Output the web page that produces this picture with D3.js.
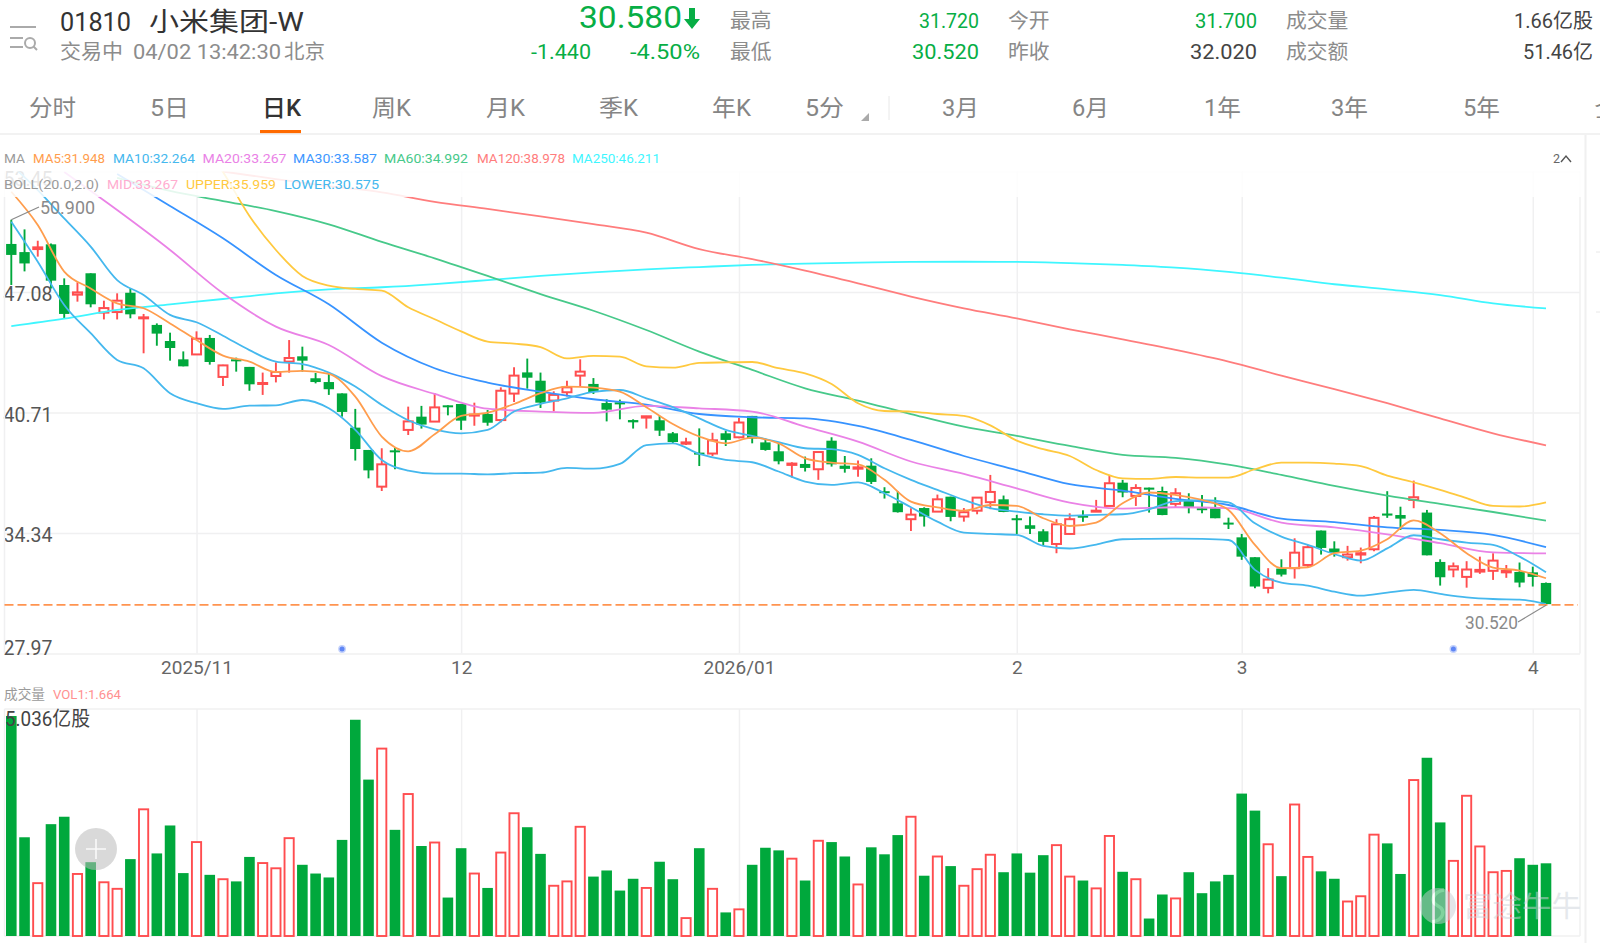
<!DOCTYPE html>
<html lang="zh">
<head>
<meta charset="utf-8">
<title>01810 小米集团-W 日K</title>
<script src="https://cdn.jsdelivr.net/npm/d3@7"></script>
<style>
  html, body { margin: 0; padding: 0; background: #fff; overflow: hidden; }
  svg { display: block; font-family: Roboto, "Noto Sans CJK SC", sans-serif; }
  .axis .domain { display: none; }
</style>
</head>
<body>
<svg id="chart" width="1600" height="943"></svg>
<script>
// Daily candles, one entry per trading session
const opens = [49.62,49.19,49.35,49.60,47.45,46.94,48.07,45.99,46.02,47.04,
  45.69,45.34,44.49,43.52,43.78,44.65,42.59,43.52,43.12,42.22,
  42.64,43.40,43.68,42.52,42.32,41.72,39.91,38.73,36.79,38.71,
  39.79,40.49,40.23,41.09,41.16,40.55,40.63,40.31,41.71,42.83,
  42.39,41.34,41.78,42.66,42.22,41.21,41.25,40.31,40.44,40.30,
  39.61,39.06,38.59,38.54,39.61,39.40,40.53,39.13,38.66,37.94,
  37.99,37.71,39.22,37.90,37.74,37.90,36.55,35.91,35.07,35.66,
  35.47,36.26,35.21,35.52,35.97,36.12,35.12,34.75,34.43,33.76,
  34.29,35.28,35.47,35.77,37.00,36.30,36.74,36.56,35.88,36.05,
  35.65,35.65,34.89,34.11,33.06,31.44,32.46,32.48,32.65,34.47,
  33.52,33.06,33.20,33.48,35.37,35.29,36.09,35.42,32.81,32.41,
  32.02,32.30,32.34,32.26,32.28,32.26,31.70];
const closes = [49.04,48.59,49.44,47.68,45.92,47.06,46.43,46.23,46.62,45.90,
  45.74,44.88,44.12,43.15,44.61,43.38,43.20,43.43,42.20,42.27,
  42.85,43.59,43.45,42.32,41.94,40.74,38.78,37.65,37.97,38.62,
  40.24,40.07,40.98,41.00,40.28,40.60,40.17,41.86,42.66,42.55,
  41.23,41.64,42.04,42.87,41.79,40.86,41.14,40.19,40.51,39.75,
  39.15,39.13,38.52,39.24,39.26,40.18,39.33,38.73,38.13,38.01,
  37.78,38.62,37.97,37.73,37.81,37.04,36.48,35.44,35.31,35.21,
  36.12,35.19,35.44,36.21,36.51,35.45,35.03,34.56,33.87,34.80,
  35.07,35.15,35.52,36.97,36.48,36.72,36.63,35.29,36.44,35.70,
  35.56,35.12,34.82,33.09,31.51,31.88,32.14,33.30,33.59,33.55,
  33.30,33.20,33.27,35.14,35.26,35.10,36.23,33.16,32.00,32.58,
  32.41,32.39,32.88,32.34,31.72,32.02,30.58];
const highs = [50.90,50.39,49.79,49.65,47.80,47.59,48.07,46.62,47.01,47.27,
  45.92,45.42,44.93,43.94,45.00,44.81,43.24,43.61,43.12,42.82,
  43.36,44.54,44.19,42.80,42.75,41.72,40.90,38.73,38.82,38.87,
  41.02,41.06,41.73,41.09,41.16,41.23,40.84,42.04,43.10,43.56,
  42.82,41.83,42.39,43.52,42.53,41.41,41.39,40.35,40.53,40.53,
  39.68,39.38,39.87,39.64,39.75,40.42,40.53,39.33,39.08,38.08,
  38.38,38.64,39.40,38.41,38.17,38.29,36.76,36.56,35.65,35.70,
  36.37,36.26,35.66,36.23,37.41,36.32,35.30,35.21,34.54,35.07,
  35.38,35.54,36.09,37.41,37.15,36.92,36.74,36.79,36.71,36.44,
  36.35,36.23,35.15,34.29,33.06,32.48,32.95,34.06,33.71,34.47,
  33.90,33.66,33.57,35.24,36.55,35.73,37.11,35.56,32.95,32.78,
  32.85,33.09,33.27,32.65,32.78,32.56,31.72];
const lows = [47.45,48.17,48.95,47.27,45.70,46.57,46.27,45.63,45.63,45.69,
  43.84,44.24,43.45,43.15,43.75,43.24,42.11,42.87,41.86,41.64,
  42.30,42.82,42.87,42.25,41.64,40.49,38.17,37.23,36.56,37.71,
  39.52,39.86,40.21,40.56,39.79,40.01,40.01,40.19,41.27,41.97,
  40.95,40.77,41.55,42.11,41.69,40.24,40.35,39.86,39.86,39.47,
  39.05,38.99,37.88,38.41,38.94,39.35,39.08,38.69,37.97,37.27,
  37.59,37.15,37.85,37.53,37.32,36.93,36.16,35.42,34.45,34.68,
  35.47,34.96,34.94,35.33,35.60,35.44,34.29,34.29,33.69,33.27,
  34.26,34.93,35.45,35.74,36.23,35.77,35.42,35.28,35.70,35.38,
  35.38,35.12,34.55,32.92,31.42,31.15,32.04,31.93,32.53,33.20,
  33.09,32.88,32.74,33.37,35.14,34.50,35.65,33.16,31.56,32.00,
  31.45,32.18,31.86,31.97,31.47,31.51,30.52];

// Traded volume per session, in 亿股
const volumes = [5.036,2.26,1.21,2.56,2.73,1.42,1.69,1.23,1.08,1.76,
  2.90,1.89,2.53,1.44,2.15,1.40,1.30,1.25,1.81,1.67,
  1.55,2.24,1.63,1.43,1.34,2.20,4.95,3.58,4.29,2.43,
  3.25,2.06,2.14,0.88,2.01,1.43,1.10,1.91,2.81,2.49,
  1.88,1.15,1.25,2.50,1.36,1.50,1.04,1.31,1.10,1.70,
  1.30,0.41,2.01,1.08,0.54,0.61,1.63,2.02,1.96,1.77,
  1.27,2.18,2.15,1.82,1.18,2.03,1.87,2.31,2.73,1.38,
  1.82,1.60,1.15,1.53,1.86,1.46,1.89,1.45,1.85,2.08,
  1.36,1.27,1.09,2.29,1.47,1.30,0.40,0.95,0.86,1.46,
  0.98,1.25,1.40,3.26,2.87,2.10,1.37,3.01,1.81,1.48,
  1.31,0.79,0.91,2.32,2.12,1.42,3.57,4.08,2.60,1.72,
  3.21,2.05,1.46,1.49,1.78,1.63,1.664];

// Fast overlays, listed for every second session
const ma5 = [52.38,50.62,48.16,47.27,46.48,46.22,45.42,44.54,43.72,43.40,42.85,42.91,42.75,41.55,39.44,38.66,
  39.56,40.53,40.70,41.16,41.73,42.08,42.03,41.81,40.99,40.10,39.44,39.08,39.38,39.08,
  38.29,38.06,37.97,37.15,36.00,35.70,35.52,35.82,35.77,35.12,34.71,34.89,35.91,36.48,36.35,
  36.09,35.56,33.71,32.48,32.53,33.27,33.41,34.01,35.01,34.33,33.27,32.51,32.35,31.948];
const ma10 = [53.80,52.47,50.97,49.48,47.71,46.92,45.87,45.48,44.77,44.01,43.40,43.27,42.82,42.08,41.11,40.30,
  39.82,39.61,39.79,40.76,41.16,41.46,41.80,41.90,41.46,40.99,40.40,39.79,39.47,39.14,
  38.82,38.77,38.47,37.76,37.15,36.62,36.09,35.65,35.47,35.33,35.26,35.30,35.33,35.59,36.03,
  36.07,35.96,34.85,34.15,33.71,33.23,32.88,33.53,34.22,34.01,33.83,33.71,33.09,32.264];
const bollUpper = [null,null,null,null,null,null,null,55.40,53.42,51.10,49.30,47.93,47.42,47.24,47.15,46.27,
  45.64,45.00,44.46,44.35,44.17,43.57,43.70,43.66,43.15,43.08,43.33,43.36,43.38,43.05,
  42.78,42.22,41.20,40.79,40.76,40.63,40.53,40.03,39.22,38.77,38.41,37.67,37.23,37.20,37.30,
  37.27,37.27,37.71,38.06,38.06,38.01,37.88,37.37,37.02,36.62,36.18,35.77,35.74,35.959];
const bollLower = [50.80,48.68,46.39,44.90,43.49,43.05,41.73,41.20,40.90,41.07,41.09,41.37,40.93,39.79,38.20,37.64,
  37.48,37.48,37.44,37.50,37.53,37.78,37.74,37.99,38.99,39.08,38.52,38.20,38.08,37.59,
  37.06,36.88,37.02,36.44,35.70,34.94,34.36,34.29,34.24,33.66,33.52,33.73,34.01,34.03,34.04,
  34.03,33.97,32.39,31.72,31.56,31.24,31.03,31.19,31.33,31.12,30.94,30.85,30.82,30.575];

// Slow overlays, listed for every fourth session
const ma20 = [null,53.42,51.41,49.30,47.01,45.25,44.28,42.63,41.69,40.91,40.76,40.69,41.06,40.93,40.76,
  39.96,39.17,38.12,37.46,36.70,35.95,35.63,35.70,35.65,34.89,34.64,34.27,33.80,33.32,33.267];
const ma30 = [null,null,53.32,51.63,49.92,47.98,46.43,44.40,43.05,42.29,41.81,41.41,41.13,40.63,40.46,
  40.40,40.00,39.26,38.41,37.67,36.92,36.58,36.14,35.82,35.10,34.92,34.64,34.50,34.24,33.587];
const ma60 = [null,null,53.11,52.42,51.89,51.36,50.66,49.73,48.86,47.93,46.97,46.09,45.07,43.93,42.96,
  41.99,41.34,40.63,39.96,39.47,38.94,38.47,38.31,37.95,37.41,36.83,36.32,35.88,35.45,34.992];
const ma120 = [null,null,null,null,53.45,53.05,52.68,52.35,51.85,51.47,51.08,50.67,50.22,49.35,48.82,
  48.21,47.54,46.84,46.22,45.69,45.11,44.58,44.02,43.40,42.66,41.95,41.20,40.40,39.61,38.978];
const ma250 = [45.28,45.67,46.13,46.43,46.71,47.01,47.22,47.33,47.50,47.71,47.93,48.12,48.28,48.40,48.51,
  48.58,48.63,48.67,48.68,48.67,48.61,48.51,48.37,48.14,47.84,47.49,47.22,46.92,46.48,46.211];

// Axis ticks
const priceTicks = [53.45, 47.08, 40.71, 34.34, 27.97];
const dateTickSessions = [14, 34, 55, 76, 93, 115];
const dateTickLabels = ["2025/11", "12", "2026/01", "2", "3", "4"];
const eventSessions = [25, 109];

// Quote header strings
const stockCode = "01810";
const stockName = "小米集团-W";
const lastPrice = 30.58;
const tabLabels = ["分时", "5日", "日K", "周K", "月K", "季K", "年K", "5分"];
const rangeLabels = ["3月", "6月", "1年", "3年", "5年", "全"];

const GREEN = "#00a83c", RED = "#ff4d4f", GRID = "#f0f0f1";
const svg = d3.select("#chart");
const L = 4.5, R = 1580;
const sessions = d3.range(opens.length);
const x = d3.scalePoint().domain(sessions).range([11.3, 1546]);
const y = d3.scaleLinear().domain([27.97, 53.45]).range([653.5, 171.5]);
const yVol = d3.scaleLinear().domain([0, 5.036]).range([936, 716]);

// Text helper; a width stretches the run to the measured header metrics
function label(parent, text, px, py, size, fill, opts = {}) {
  const t = parent.append("text").attr("x", px).attr("y", py).attr("font-size", size)
    .attr("fill", fill).attr("dominant-baseline", "central")
    .attr("text-anchor", opts.anchor || "start").text(text);
  if (opts.width) t.attr("textLength", opts.width).attr("lengthAdjust", "spacingAndGlyphs");
  if (opts.weight) t.attr("font-weight", opts.weight);
  return t;
}

// ---- quote header ----
const head = svg.append("g");
head.append("rect").attr("x", 10).attr("y", 26).attr("width", 26).attr("height", 2).attr("fill", "#aaa");
head.append("rect").attr("x", 10).attr("y", 37).attr("width", 13).attr("height", 2).attr("fill", "#aaa");
head.append("rect").attr("x", 10).attr("y", 46).attr("width", 13).attr("height", 2).attr("fill", "#aaa");
head.append("circle").attr("cx", 30).attr("cy", 43).attr("r", 5).attr("fill", "none").attr("stroke", "#aaa").attr("stroke-width", 2);
head.append("line").attr("x1", 33.5).attr("y1", 46.5).attr("x2", 37).attr("y2", 50).attr("stroke", "#aaa").attr("stroke-width", 2);

label(head, stockCode, 60, 22, 26, "#333", { width: 71 });
label(head, stockName, 149, 22, 26, "#333", { width: 155 });
label(head, "交易中", 60, 52, 20.5, "#8c8c8c", { width: 63 });
label(head, "04/02 13:42:30", 133, 52, 20.5, "#8c8c8c", { width: 148 });
label(head, "北京", 284, 52, 20.5, "#8c8c8c", { width: 41 });

label(head, "30.580", 579, 17, 32, "#07ae45", { width: 103 });
head.append("path").attr("d", "M689 8h6v11h5l-8 10l-8-10h5z").attr("fill", "#07ae45");
label(head, "-1.440", 531, 52, 21, "#07ae45", { width: 60 });
label(head, "-4.50%", 630, 52, 21, "#07ae45", { width: 70 });

[["最高", 730, 21], ["最低", 730, 52], ["今开", 1008, 21], ["昨收", 1008, 52], ["成交量", 1286, 21], ["成交额", 1286, 52]]
  .forEach(([s, px, py]) => label(head, s, px, py, 20, "#8c8c8c", { width: s.length * 20.8 }));
[["31.720", 979, 21, "#07ae45", 60], ["30.520", 979, 52, "#07ae45", 67], ["31.700", 1257, 21, "#07ae45", 62],
 ["32.020", 1257, 52, "#444", 67], ["1.66亿股", 1593, 21, "#444", 79], ["51.46亿", 1593, 52, "#444", 70]]
  .forEach(([s, px, py, c, w]) => label(head, s, px, py, 20.5, c, { anchor: "end", width: w }));

// ---- period tabs ----
const tabs = svg.append("g");
const tabX = [29, 150, 262, 372, 486, 599, 712, 805];
tabLabels.forEach((s, i) => label(tabs, s, tabX[i], 108, 23, i === 2 ? "#333" : "#858585",
  { width: i === 0 ? 47 : 39, weight: i === 2 ? 500 : null }));
tabs.append("rect").attr("x", 260).attr("y", 130).attr("width", 41).attr("height", 3.5).attr("fill", "#ff6a00");
tabs.append("path").attr("d", "M869 113v8h-8z").attr("fill", "#aaa");
tabs.append("line").attr("x1", 889).attr("x2", 889).attr("y1", 96).attr("y2", 120).attr("stroke", "#e8e8e8");
const rangeX = [942, 1072, 1204, 1331, 1463, 1594];
rangeLabels.forEach((s, i) => label(tabs, s, rangeX[i], 108, 23, "#858585", { width: 37 }));
tabs.append("line").attr("x1", 0).attr("x2", 1600).attr("y1", 134).attr("y2", 134).attr("stroke", "#eee").attr("stroke-width", 1.5);
svg.append("line").attr("x1", 1585.5).attr("x2", 1585.5).attr("y1", 135).attr("y2", 943).attr("stroke", "#f0f0f0").attr("stroke-width", 2);
[252, 312].forEach(py => svg.append("line").attr("x1", 1596).attr("x2", 1600).attr("y1", py).attr("y2", py).attr("stroke", "#e8e8e8"));

// ---- price panel grid and axes ----
const gridPrice = svg.append("g");
const yAxis = d3.axisRight(y).tickValues(priceTicks).tickSize(R - L).tickFormat(d3.format(".2f"));
const yAxisG = gridPrice.append("g").attr("class", "axis").attr("transform", `translate(${L},0)`).call(yAxis);
yAxisG.selectAll("line").attr("stroke", GRID).attr("stroke-width", 1.5);
yAxisG.selectAll("text").attr("x", -1).attr("dy", 0).attr("font-size", 19.5).attr("fill", "#555")
  .attr("font-family", "Roboto, sans-serif").attr("text-anchor", "start").attr("dominant-baseline", "central")
  .attr("transform", d => `translate(0, ${d === 27.97 ? -6 : d === 53.45 ? 7 : 2})`);

const xAxisPrice = d3.axisBottom(x).tickValues(dateTickSessions).tickSize(-(653.5 - 171.5))
  .tickFormat((d, i) => dateTickLabels[i]);
const xAxisG = gridPrice.append("g").attr("class", "axis").attr("transform", "translate(0,653.5)").call(xAxisPrice);
xAxisG.selectAll("line").attr("stroke", GRID).attr("stroke-width", 1.5);
xAxisG.selectAll("text").attr("y", 14).attr("dy", 0).attr("font-size", 19).attr("fill", "#666")
  .attr("font-family", "Roboto, sans-serif").attr("dominant-baseline", "central");
[L, R].forEach(px => gridPrice.append("line").attr("x1", px).attr("x2", px).attr("y1", 171.5).attr("y2", 653.5)
  .attr("stroke", GRID).attr("stroke-width", 1.5));

// ---- candlesticks ----
const isUp = i => closes[i] >= opens[i];
const candles = svg.append("g").selectAll("g").data(sessions).join("g");
candles.append("line")
  .attr("x1", i => x(i)).attr("x2", i => x(i))
  .attr("y1", i => y(highs[i])).attr("y2", i => y(lows[i]))
  .attr("stroke", i => isUp(i) ? RED : GREEN).attr("stroke-width", 1.9);
candles.append("rect")
  .attr("x", i => isUp(i) ? x(i) - 4.5 : x(i) - 5.2)
  .attr("width", i => isUp(i) ? 9 : 10.4)
  .attr("y", i => y(Math.max(opens[i], closes[i])))
  .attr("height", i => Math.max(isUp(i) ? 1 : 2, Math.abs(y(opens[i]) - y(closes[i]))))
  .attr("fill", i => isUp(i) ? "#fff" : GREEN)
  .attr("stroke", i => isUp(i) ? RED : "none").attr("stroke-width", 2);

// ---- moving averages and Bollinger bands ----
const overlays = [
  { values: ma250, step: 4, color: "#3ff6ff" },
  { values: ma120, step: 4, color: "#ff7d7d" },
  { values: ma60, step: 4, color: "#47c98a" },
  { values: bollUpper, step: 2, color: "#ffc93f" },
  { values: bollLower, step: 2, color: "#45b8ee" },
  { values: ma30, step: 4, color: "#3793ff" },
  { values: ma20, step: 4, color: "#ea82e6" },
  { values: ma10, step: 2, color: "#45b8ee" },
  { values: ma5, step: 2, color: "#ff9d4d" }
];
svg.append("clipPath").attr("id", "pricePanel").append("rect")
  .attr("x", L).attr("y", 171.5).attr("width", R - L).attr("height", 653.5 - 171.5);
const lineLayer = svg.append("g").attr("clip-path", "url(#pricePanel)").attr("fill", "none");
overlays.forEach(o => {
  const path = d3.line().defined(v => v !== null).x((v, k) => x(k * o.step)).y(v => y(v)).curve(d3.curveMonotoneX);
  lineLayer.append("path").attr("d", path(o.values)).attr("stroke", o.color).attr("stroke-width", 1.8)
    .attr("stroke-linejoin", "round");
});

// Last-price guide
svg.append("line").attr("x1", L).attr("x2", R - 2).attr("y1", y(lastPrice) + 0.8).attr("y2", y(lastPrice) + 0.8)
  .attr("stroke", "#ff9450").attr("stroke-width", 1.7).attr("stroke-dasharray", "9 4");

// High and low call-outs
const maxI = d3.maxIndex(highs), minI = d3.minIndex(lows);
const notes = svg.append("g");
notes.append("path").attr("d", `M${x(maxI)},${y(highs[maxI])}L39,207`).attr("stroke", "#8a8a8a").attr("fill", "none").attr("stroke-width", 1.2);
label(notes, d3.format(".3f")(highs[maxI]), 40, 207, 18, "#8a8a8a", { width: 55 });
notes.append("path").attr("d", `M${x(minI)},${y(lows[minI])}L1518,622`).attr("stroke", "#8a8a8a").attr("fill", "none").attr("stroke-width", 1.2);
label(notes, d3.format(".3f")(lows[minI]), 1465, 622, 18, "#8a8a8a", { width: 53 });

// Event markers along the bottom of the price panel
eventSessions.forEach(i => {
  svg.append("circle").attr("cx", x(i)).attr("cy", 649).attr("r", 3.2).attr("fill", "#5f86f5").attr("stroke", "#c4d2fb").attr("stroke-width", 1.4);
});

// Veil under the Bollinger legend row
svg.append("rect").attr("x", 0).attr("y", 171).attr("width", 1584).attr("height", 26).attr("fill", "#fff").attr("opacity", 0.86);

// ---- legends ----
const maRow = [["MA", 4, "#9a9a9a", 21], ["MA5:31.948", 33, "#ff9d4d", 72], ["MA10:32.264", 113, "#45b8ee", 82],
  ["MA20:33.267", 202.5, "#ea82e6", 84], ["MA30:33.587", 293, "#3d97ff", 84], ["MA60:34.992", 384, "#47c98a", 84],
  ["MA120:38.978", 477, "#ff7d7d", 88], ["MA250:46.211", 572, "#3ff6ff", 88]];
maRow.forEach(([s, px, c, w]) => label(svg, s, px, 158, 13, c, { width: w }));
const bollRow = [["BOLL(20.0,2.0)", 4, "#9a9a9a", 95], ["MID:33.267", 107, "#ffadcf", 71], ["UPPER:35.959", 186, "#ffc93f", 90], ["LOWER:30.575", 284, "#45b8ee", 95]];
bollRow.forEach(([s, px, c, w]) => label(svg, s, px, 184, 13, c, { width: w }));
label(svg, "2", 1553, 158, 12.5, "#666");
svg.append("path").attr("d", "M1561,162L1566,156L1571,162").attr("fill", "none").attr("stroke", "#555").attr("stroke-width", 1.4);

// ---- volume panel ----
const volGrid = svg.append("g");
const volAxisG = volGrid.append("g").attr("class", "axis").attr("transform", "translate(0,936)");
volAxisG.call(d3.axisBottom(x).tickValues(dateTickSessions).tickSize(-(936 - 709)).tickFormat(""));
volAxisG.selectAll("line").attr("stroke", GRID).attr("stroke-width", 1.5);
[709, 936].forEach(py => volGrid.append("line").attr("x1", L).attr("x2", R).attr("y1", py).attr("y2", py).attr("stroke", GRID).attr("stroke-width", 1.5));
[L, R].forEach(px => volGrid.append("line").attr("x1", px).attr("x2", px).attr("y1", 709).attr("y2", 936).attr("stroke", GRID).attr("stroke-width", 1.5));

svg.append("g").selectAll("rect").data(sessions).join("rect")
  .attr("x", i => isUp(i) ? x(i) - 4.6 : x(i) - 5.3)
  .attr("width", i => isUp(i) ? 9.2 : 10.6)
  .attr("y", i => yVol(volumes[i]))
  .attr("height", i => yVol(0) - yVol(volumes[i]))
  .attr("fill", i => isUp(i) ? "#fff" : GREEN)
  .attr("stroke", i => isUp(i) ? RED : "none").attr("stroke-width", 1.9);

label(svg, "成交量", 4, 694, 13.5, "#9a9a9a", { width: 41 });
label(svg, "VOL1:1.664", 53, 694, 13.5, "#ff9090", { width: 68 });
label(svg, "5.036亿股", 5, 719, 20, "#444", { width: 85 });

// Floating add button
const plus = svg.append("g");
plus.append("circle").attr("cx", 96).attr("cy", 849).attr("r", 21).attr("fill", "#b9b9b9").attr("opacity", 0.55);
plus.append("path").attr("d", "M86,849h20M96,839v20").attr("stroke", "#fff").attr("stroke-width", 1.6).attr("opacity", 0.85);

// Brand watermark
const mark = svg.append("g").attr("opacity", 0.5);
mark.append("circle").attr("cx", 1438).attr("cy", 906).attr("r", 18).attr("fill", "#c9ced4");
mark.append("path").attr("d", "M1444,890C1432,892 1430,902 1438,906C1446,910 1444,920 1432,922")
  .attr("fill", "none").attr("stroke", "#fff").attr("stroke-width", 3.5);
label(mark, "富途牛牛", 1463, 907, 29, "#cdd3da", { width: 118 });
</script>
</body>
</html>
